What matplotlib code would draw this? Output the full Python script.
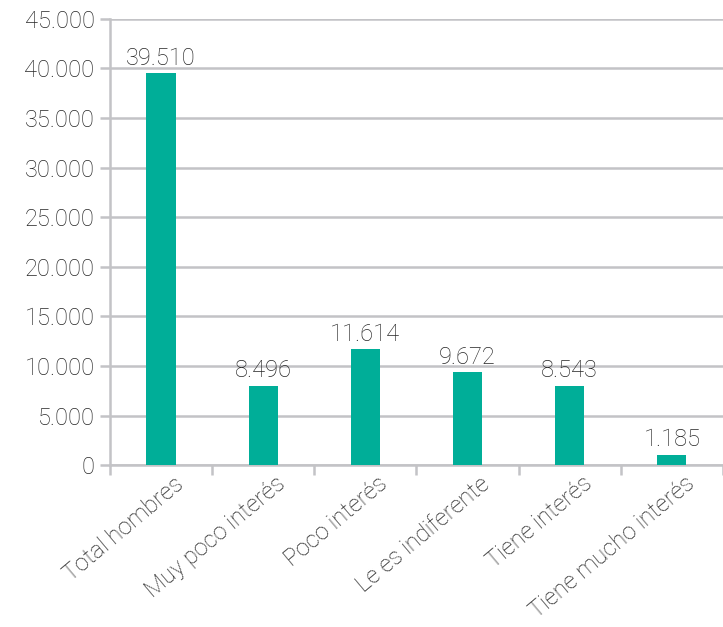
import matplotlib.pyplot as plt
import matplotlib.transforms as mtransforms
import numpy as np

categorias = ["Total hombres", "Muy poco interés", "Poco interés",
              "Le es indiferente", "Tiene interés", "Tiene mucho interés"]
# alturas (no coinciden del todo con las etiquetas)
alturas = [39510, 8000, 11700, 9400, 8000, 1050]
etiquetas = ["39.510", "8.496", "11.614", "9.672", "8.543", "1.185"]
yticks = [0, 5000, 10000, 15000, 20000, 25000, 30000, 35000, 40000, 45000]
ytick_labels = ["0", "5.000", "10.000", "15.000", "20.000", "25.000",
                "30.000", "35.000", "40.000", "45.000"]

plt.rcParams["font.family"] = ["Roboto", "DejaVu Sans"]
plt.rcParams["font.weight"] = "light"

gris = "#c3c3c6"
texto = "#262626"
tam = 17

fig = plt.figure(figsize=(7.23, 6.27), dpi=100)
ax = fig.add_axes([0.152, 0.258, 0.848, 0.712])

x = np.arange(len(categorias))
ax.bar(x, alturas, width=0.285, color="#00ae98", zorder=3)

for xi, h, t in zip(x, alturas, etiquetas):
    ax.text(xi, h + 350, t, ha="center", va="bottom", fontsize=tam,
            color=texto, fontweight="light")

ax.set_ylim(0, 45000)
ax.set_xlim(-0.5, 5.5)
ax.set_yticks(yticks)
ax.set_yticklabels(ytick_labels, fontsize=tam, color=texto)
ax.grid(axis="y", color=gris, linewidth=1.8, zorder=0)

ax.set_xticks(x)
ax.set_xticklabels(categorias, rotation=40, ha="right", va="top",
                   rotation_mode="anchor", fontsize=tam, color=texto)
ax.tick_params(axis="x", which="major", length=0, pad=5)
desplaz = mtransforms.ScaledTranslation(0.12, 0, fig.dpi_scale_trans)
for lab in ax.get_xticklabels():
    lab.set_transform(lab.get_transform() + desplaz)
ax.set_xticks(np.arange(-0.5, 6, 1), minor=True)
ax.tick_params(axis="x", which="minor", length=7, width=1.8, color=gris)
ax.tick_params(axis="y", length=7, width=1.8, color=gris, pad=4)

for s in ["top", "right"]:
    ax.spines[s].set_visible(False)
for s in ["left", "bottom"]:
    ax.spines[s].set_color(gris)
    ax.spines[s].set_linewidth(1.8)

fig.savefig("out.png", dpi=100)
